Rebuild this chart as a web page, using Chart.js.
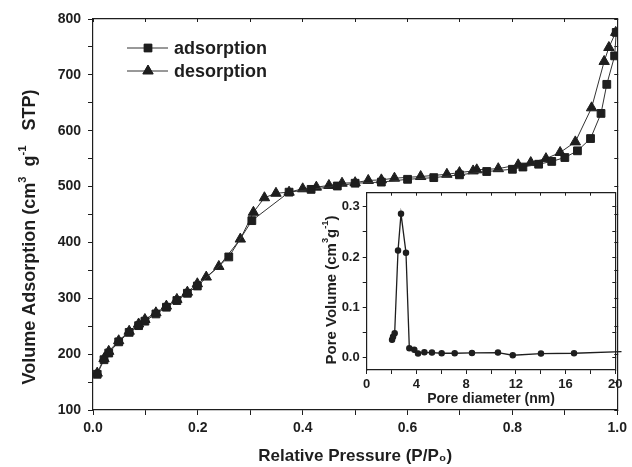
<!DOCTYPE html>
<html>
<head>
<meta charset="utf-8">
<script src="https://cdn.jsdelivr.net/npm/chart.js@4"></script>
<style>
    body { margin: 0; background: #fff; }
    #caja { position: relative; width: 632px; height: 467px; }
    #principal { position: absolute; left: 0; top: 0; }
    #inserto { position: absolute; left: 320px; top: 180px; }
</style>
</head>
<body>
<div id="caja">
    <canvas id="principal" width="632" height="467"></canvas>
    <canvas id="inserto" width="312" height="229"></canvas>
</div>
<script>
/* Isoterma - adsorcion */
const presionAds = [0.008, 0.021, 0.030, 0.049, 0.069, 0.087, 0.099, 0.120, 0.140, 0.160, 0.180, 0.199,
    0.259, 0.303, 0.374, 0.416, 0.466, 0.500, 0.550, 0.600, 0.650, 0.699, 0.751, 0.800, 0.820,
    0.850, 0.875, 0.900, 0.924, 0.949, 0.969, 0.980, 0.995, 0.998];
const volumenAds = [164, 190, 202, 222, 239, 251, 259, 272, 284, 296, 309, 322,
    374, 439, 490, 495, 501, 506, 508, 513, 516, 521, 527, 531, 535,
    540, 545, 552, 564, 586, 631, 683, 734, 776];

/* Isoterma - desorcion */
const presionDes = [0.997, 0.984, 0.975, 0.951, 0.920, 0.891, 0.864, 0.835, 0.811, 0.773, 0.732, 0.725,
    0.699, 0.675, 0.625, 0.575, 0.550, 0.525, 0.500, 0.475, 0.450, 0.426, 0.400, 0.374, 0.349,
    0.327, 0.306, 0.281, 0.240, 0.216, 0.199, 0.180, 0.160, 0.140, 0.120, 0.099, 0.087, 0.069,
    0.049, 0.030, 0.021, 0.008];
const volumenDes = [776, 749, 724, 641, 580, 561, 550, 543, 539, 532, 530, 528,
    525, 522, 518, 515, 512, 511, 507, 506, 502, 499, 496, 490, 488,
    480, 454, 406, 357, 338, 326, 311, 298, 286, 274, 262, 254, 241,
    224, 205, 192, 166];

/* Distribucion de poros (inserto) */
const diametroPoro = [2.04, 2.12, 2.25, 2.52, 2.76, 3.16, 3.43, 3.83, 4.13, 4.64, 5.25, 6.03,
    7.08, 8.47, 10.56, 11.75, 14.02, 16.68, 20.5];
const volumenPoro = [0.036, 0.042, 0.049, 0.213, 0.286, 0.209, 0.019, 0.016, 0.009, 0.011, 0.0105, 0.0093,
    0.0093, 0.0099, 0.0105, 0.0053, 0.0086, 0.0093, 0.0126];

/* Marcas y etiquetas de ejes */
const marcasX = [0, 0.1, 0.2, 0.3, 0.4, 0.5, 0.6, 0.7, 0.8, 0.9, 1.0];
const etiquetasX = [0, 0.2, 0.4, 0.6, 0.8, 1.0];
const marcasY = [100, 150, 200, 250, 300, 350, 400, 450, 500, 550, 600, 650, 700, 750, 800];
const etiquetasY = [100, 200, 300, 400, 500, 600, 700, 800];
const marcasPoroX = [0, 2, 4, 6, 8, 10, 12, 14, 16, 18, 20];
const etiquetasPoroX = [0, 4, 8, 12, 16, 20];
const marcasPoroY = [0, 0.05, 0.1, 0.15, 0.2, 0.25, 0.3];
const etiquetasPoroY = [0, 0.1, 0.2, 0.3];

const negro = "#1e1e1e";
const familia = "'Liberation Sans', Arial, sans-serif";

function par(xs, ys) {
    return xs.map((x, i) => ({ x: x, y: ys[i] }));
}

/* Un eje con marcas fijas */
function eje(pos, min, max, marcas, etiquetas, dec, tam, largo, relleno, medida) {
    return {
        type: "linear",
        position: pos,
        min: min,
        max: max,
        afterBuildTicks: (s) => { s.ticks = marcas.map(v => ({ value: v })); },
        afterFit: (s) => {
            if (s.isHorizontal()) s.height = medida; else s.width = medida;
        },
        ticks: {
            display: etiquetas != null,
            autoSkip: false,
            maxRotation: 0,
            padding: relleno,
            color: negro,
            font: { family: familia, size: tam, weight: "bold" },
            callback: (v) => (etiquetas && etiquetas.includes(v)) ? v.toFixed(dec) : ""
        },
        grid: { display: true, drawOnChartArea: false, drawTicks: true, tickLength: largo, tickColor: negro },
        border: { display: true, color: negro, width: 1.2 }
    };
}

/* Titulo vertical con superindices */
function tituloVertical(ctx, x, y, partes, tam) {
    ctx.save();
    ctx.translate(x, y);
    ctx.rotate(-Math.PI / 2);
    ctx.fillStyle = negro;
    ctx.textBaseline = "middle";
    ctx.textAlign = "left";
    let total = 0;
    partes.forEach(p => {
        ctx.font = "bold " + (p.sup ? tam * 0.62 : tam) + "px " + familia;
        total += ctx.measureText(p.t).width;
    });
    let cx = -total / 2;
    partes.forEach(p => {
        ctx.font = "bold " + (p.sup ? tam * 0.62 : tam) + "px " + familia;
        ctx.fillText(p.t, cx, p.sup ? -tam * 0.42 : 0);
        cx += ctx.measureText(p.t).width;
    });
    ctx.restore();
}

/* Leyenda dentro del area */
const leyenda = {
    id: "leyenda",
    afterDraw(chart) {
        const ctx = chart.ctx;
        const filas = [
            { y: 48, estilo: "rect", r: 5.5, texto: "adsorption" },
            { y: 71, estilo: "triangle", r: 6, texto: "desorption" }
        ];
        filas.forEach(f => {
            ctx.save();
            ctx.strokeStyle = "#333";
            ctx.lineWidth = 1;
            ctx.beginPath();
            ctx.moveTo(127, f.y);
            ctx.lineTo(168, f.y);
            ctx.stroke();
            ctx.fillStyle = negro;
            ctx.strokeStyle = negro;
            Chart.helpers.drawPoint(ctx, { pointStyle: f.estilo, radius: f.r, borderWidth: 1, rotation: 0 }, 148, f.y);
            ctx.fill();
            ctx.font = "bold 18px " + familia;
            ctx.textBaseline = "middle";
            ctx.fillText(f.texto, 174, f.y + 1);
            ctx.restore();
        });
        tituloVertical(ctx, 30, 237, [
            { t: "Volume Adsorption (cm" }, { t: "3", sup: true }, { t: "  g" },
            { t: "-1", sup: true }, { t: "   STP)" }
        ], 18);
    }
};

const tituloPoro = {
    id: "tituloPoro",
    afterDraw(chart) {
        tituloVertical(chart.ctx, 12, 110, [
            { t: "Pore Volume (cm" }, { t: "3", sup: true }, { t: "g" },
            { t: "-1", sup: true }, { t: ")" }
        ], 15);
    }
};

/* Grafica principal */
let ejesPrincipal = {
    x: eje("bottom", 0, 1, marcasX, etiquetasX, 1, 14, 5, 5, 57),
    y: eje("left", 100, 800, marcasY, etiquetasY, 0, 14, 5, 7, 93),
    x2: eje("top", 0, 1, marcasX, null, 0, 14, -3, 0, 0),
    y2: eje("right", 100, 800, marcasY, null, 0, 14, -3, 0, 0)
};
ejesPrincipal.x.title = {
    display: true,
    text: "Relative Pressure (P/P\u2080)",
    color: negro,
    font: { family: familia, size: 17, weight: "bold" },
    padding: { top: 0, bottom: 0 }
};

new Chart(document.getElementById("principal").getContext("2d"), {
    type: "scatter",
    data: {
        datasets: [{
            label: "adsorption",
            data: par(presionAds, volumenAds),
            showLine: true,
            borderColor: "#333",
            borderWidth: 1,
            pointStyle: "rect",
            pointRadius: 5.5,
            pointBackgroundColor: negro,
            pointBorderColor: negro
        }, {
            label: "desorption",
            data: par(presionDes, volumenDes),
            showLine: true,
            borderColor: "#333",
            borderWidth: 1,
            pointStyle: "triangle",
            pointRadius: 6,
            pointBackgroundColor: negro,
            pointBorderColor: negro
        }]
    },
    options: {
        responsive: false,
        animation: false,
        layout: { padding: { top: 19, right: 10, bottom: 0, left: 0 } },
        scales: ejesPrincipal,
        plugins: { legend: { display: false }, tooltip: { enabled: false } }
    },
    plugins: [leyenda]
});

/* Inserto */
let ejesPoro = {
    x: eje("bottom", 0, 20, marcasPoroX, etiquetasPoroX, 0, 13, 4, 3, 39),
    y: eje("left", -0.024, 0.328, marcasPoroY, etiquetasPoroY, 1, 13, 4, 3, 46.7),
    x2: eje("top", 0, 20, marcasPoroX, null, 0, 13, -3, 0, 0),
    y2: eje("right", -0.024, 0.328, marcasPoroY, null, 0, 13, -3, 0, 0)
};
ejesPoro.x.title = {
    display: true,
    text: "Pore diameter (nm)",
    color: negro,
    font: { family: familia, size: 14, weight: "bold" },
    padding: { top: 0, bottom: 1 }
};

new Chart(document.getElementById("inserto").getContext("2d"), {
    type: "scatter",
    data: {
        datasets: [{
            label: "poro",
            data: par(diametroPoro, volumenPoro),
            showLine: true,
            borderColor: negro,
            borderWidth: 1.3,
            pointRadius: (c) => c.dataIndex === diametroPoro.length - 1 ? 0 : 2.6,
            pointBackgroundColor: negro,
            pointBorderColor: negro,
            clip: { left: 0, top: 0, bottom: 0, right: 8 }
        }]
    },
    options: {
        responsive: false,
        animation: false,
        layout: { padding: { top: 12.7, right: 16.7, bottom: 0, left: 0 } },
        scales: ejesPoro,
        plugins: { legend: { display: false }, tooltip: { enabled: false } }
    },
    plugins: [tituloPoro]
});
</script>
</body>
</html>
